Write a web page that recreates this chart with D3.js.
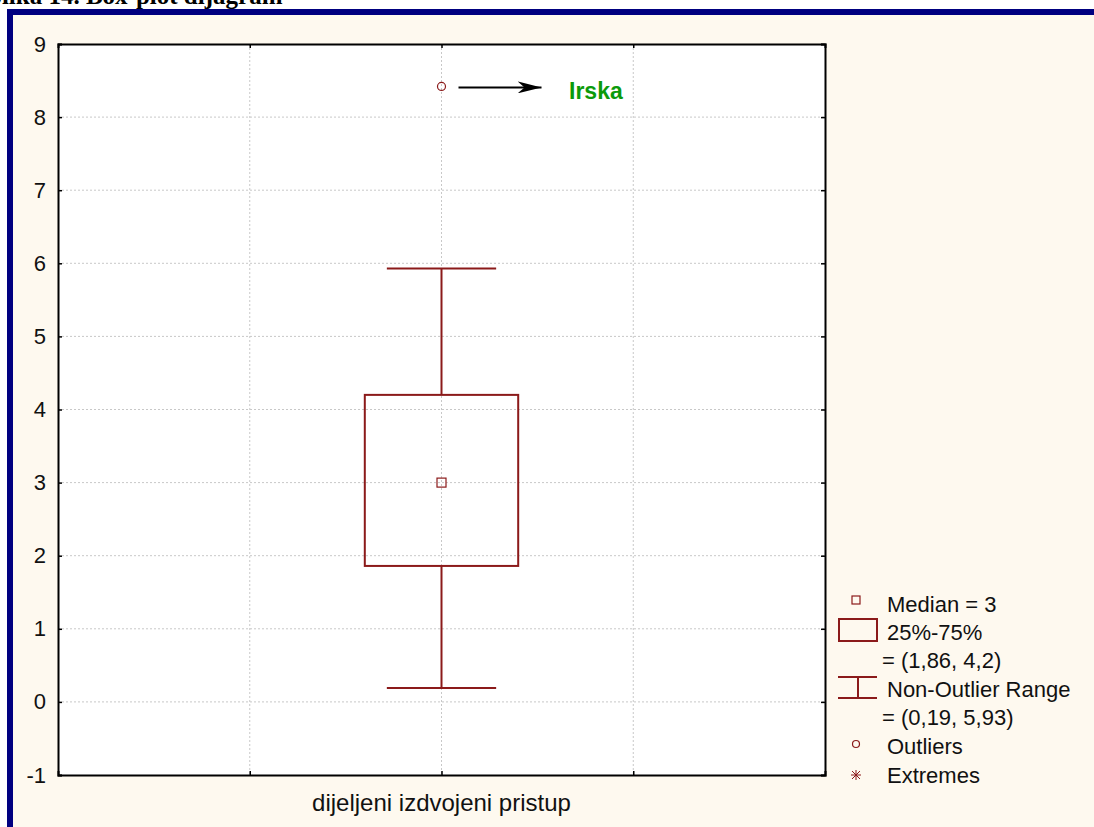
<!DOCTYPE html>
<html>
<head>
<meta charset="utf-8">
<script src="https://cdn.jsdelivr.net/npm/d3@7"></script>
<style>
  body { margin: 0; background: #fff; }
  svg { display: block; }
  text { font-family: "Liberation Sans", Arial, sans-serif; }
</style>
</head>
<body>
<div id="container"></div>
<script>
// chart data
var categories = ["dijeljeni izdvojeni pristup"];
var medians = [3];
var quartiles = [[1.86, 4.2]];
var whiskers = [[0.19, 5.93]];
var outliers = [8.42];
var yTicks = [-1, 0, 1, 2, 3, 4, 5, 6, 7, 8, 9];
var legendLabels = ["Median = 3", "25%-75%", "= (1,86, 4,2)", "Non-Outlier Range", "= (0,19, 5,93)", "Outliers", "Extremes"];
var noteLabel = "Irska";
var title = "Slika 14. Box-plot dijagram";

var width = 1094, height = 827;
var dark = "#8b1a1a";

var svg = d3.select("#container").append("svg")
    .attr("width", width)
    .attr("height", height);

// frame
svg.append("rect").attr("x", 7).attr("y", 9).attr("width", width).attr("height", height)
    .attr("fill", "#000080");
svg.append("rect").attr("x", 13).attr("y", 15).attr("width", width).attr("height", height)
    .attr("fill", "#fef9ef");

svg.append("text")
    .attr("x", -12).attr("y", 4)
    .style("font-family", "'Liberation Serif', 'Times New Roman', serif")
    .style("font-weight", "bold")
    .style("font-size", "25px")
    .text(title);

var pLeft = 58, pRight = 825, pTop = 44, pBottom = 775;

var y = d3.scaleLinear().domain([-1, 9]).range([pBottom, pTop]);
var x = d3.scaleLinear().domain([0, 4]).range([pLeft, pRight]);
var band = 0.8, cap = 0.57;

var plot = svg.append("g");
plot.append("rect").attr("x", pLeft).attr("y", pTop)
    .attr("width", pRight - pLeft).attr("height", pBottom - pTop)
    .attr("fill", "#fff");

// grid
plot.selectAll(".hg").data(yTicks.slice(1, -1)).enter().append("line")
    .attr("x1", pLeft).attr("x2", pRight)
    .attr("y1", function(d) { return y(d); }).attr("y2", function(d) { return y(d); })
    .attr("stroke", "#c8c8c8").attr("stroke-dasharray", "2,2");
plot.selectAll(".vg").data([1, 2, 3]).enter().append("line")
    .attr("x1", function(d) { return x(d); }).attr("x2", function(d) { return x(d); })
    .attr("y1", pTop).attr("y2", pBottom)
    .attr("stroke", "#c8c8c8").attr("stroke-dasharray", "2,2");

// axes (inward ticks on all sides)
var yl = d3.axisLeft(y).tickValues(yTicks).tickSize(-4).tickPadding(12)
    .tickFormat(function(d) { return String(d); });
var yr = d3.axisRight(y).tickValues(yTicks).tickSize(-4).tickFormat("");
var xb = d3.axisBottom(x).tickValues([1, 2, 3]).tickSize(-4).tickFormat("");
var xt = d3.axisTop(x).tickValues([1, 2, 3]).tickSize(-4).tickFormat("");

[[yl, "translate(" + pLeft + ",0)"], [yr, "translate(" + pRight + ",0)"],
 [xb, "translate(0," + pBottom + ")"], [xt, "translate(0," + pTop + ")"]].forEach(function(a) {
  var g = svg.append("g").attr("transform", a[1]).call(a[0]);
  g.selectAll("path, line").attr("stroke", "#000").attr("stroke-width", 1.5);
  g.select(".domain").attr("stroke-width", 2);
  g.selectAll("text").style("font-size", "22px").style("font-family", "'Liberation Sans', Arial, sans-serif").attr("fill", "#111");
});

svg.append("text")
    .attr("x", x(2)).attr("y", 811)
    .attr("text-anchor", "middle")
    .style("font-size", "24px")
    .attr("fill", "#111")
    .text(categories[0]);

// box plot
categories.forEach(function(c, i) {
  var cx = x(2 + i);
  var w0 = x(band / 2) - x(0), c0 = x(cap / 2) - x(0);
  var g = svg.append("g").attr("stroke", dark).attr("stroke-width", 2).attr("fill", "none");
  g.append("line").attr("x1", cx).attr("x2", cx).attr("y1", y(quartiles[i][1])).attr("y2", y(whiskers[i][1]));
  g.append("line").attr("x1", cx).attr("x2", cx).attr("y1", y(quartiles[i][0])).attr("y2", y(whiskers[i][0]));
  g.append("line").attr("x1", cx - c0).attr("x2", cx + c0).attr("y1", y(whiskers[i][1])).attr("y2", y(whiskers[i][1]));
  g.append("line").attr("x1", cx - c0).attr("x2", cx + c0).attr("y1", y(whiskers[i][0])).attr("y2", y(whiskers[i][0]));
  g.append("rect").attr("x", cx - w0).attr("width", 2 * w0)
    .attr("y", y(quartiles[i][1])).attr("height", y(quartiles[i][0]) - y(quartiles[i][1]));
  g.append("rect").attr("x", cx - 4.5).attr("y", y(medians[i]) - 4.5)
    .attr("width", 9).attr("height", 9).attr("stroke-width", 1.2);
  g.append("circle").attr("cx", cx).attr("cy", y(outliers[i])).attr("r", 4).attr("stroke-width", 1.2);
});

// annotation arrow
svg.append("defs").append("marker")
    .attr("id", "arr").attr("viewBox", "0 0 24 12").attr("refX", 24).attr("refY", 6)
    .attr("markerWidth", 24).attr("markerHeight", 12).attr("markerUnits", "userSpaceOnUse")
    .attr("orient", "auto")
    .append("path").attr("d", "M0,0 L24,6 L0,12 L7,6 Z").attr("fill", "#000");
svg.append("line")
    .attr("x1", x(2) + 17).attr("x2", x(2) + 100)
    .attr("y1", y(outliers[0]) + 1).attr("y2", y(outliers[0]) + 1)
    .attr("stroke", "#000").attr("stroke-width", 2)
    .attr("marker-end", "url(#arr)");
svg.append("text")
    .attr("x", 569).attr("y", y(outliers[0]) + 13)
    .style("font-size", "23px").style("font-weight", "bold")
    .attr("fill", "#0b9a0b")
    .text(noteLabel);

// legend
var lx = 887, ly = [612, 640, 668, 697, 725, 754, 783];
svg.selectAll(".lt").data(legendLabels).enter().append("text")
    .attr("x", function(d, i) { return (i === 2 || i === 4) ? 882 : lx; })
    .attr("y", function(d, i) { return ly[i]; })
    .style("font-size", "22px")
    .attr("fill", "#111")
    .text(function(d) { return d; });

var lg = svg.append("g").attr("stroke", dark).attr("fill", "none");
lg.append("rect").attr("x", 852).attr("y", 596).attr("width", 8).attr("height", 8).attr("stroke-width", 1.2);
lg.append("rect").attr("x", 839).attr("y", 619).attr("width", 38).attr("height", 22).attr("stroke-width", 2);
lg.append("line").attr("x1", 838).attr("x2", 877).attr("y1", 677).attr("y2", 677).attr("stroke-width", 2);
lg.append("line").attr("x1", 838).attr("x2", 877).attr("y1", 698).attr("y2", 698).attr("stroke-width", 2);
lg.append("line").attr("x1", 858).attr("x2", 858).attr("y1", 677).attr("y2", 698).attr("stroke-width", 2);
lg.append("circle").attr("cx", 856).attr("cy", 744).attr("r", 3.5).attr("stroke-width", 1.2);
var ax = 856, ay = 775;
[[-5, 0, 5, 0], [0, -5, 0, 5], [-4, -4, 4, 4], [-4, 4, 4, -4]].forEach(function(s) {
  lg.append("line").attr("x1", ax + s[0]).attr("x2", ax + s[2]).attr("y1", ay + s[1]).attr("y2", ay + s[3]).attr("stroke-width", 1);
});
</script>
</body>
</html>
